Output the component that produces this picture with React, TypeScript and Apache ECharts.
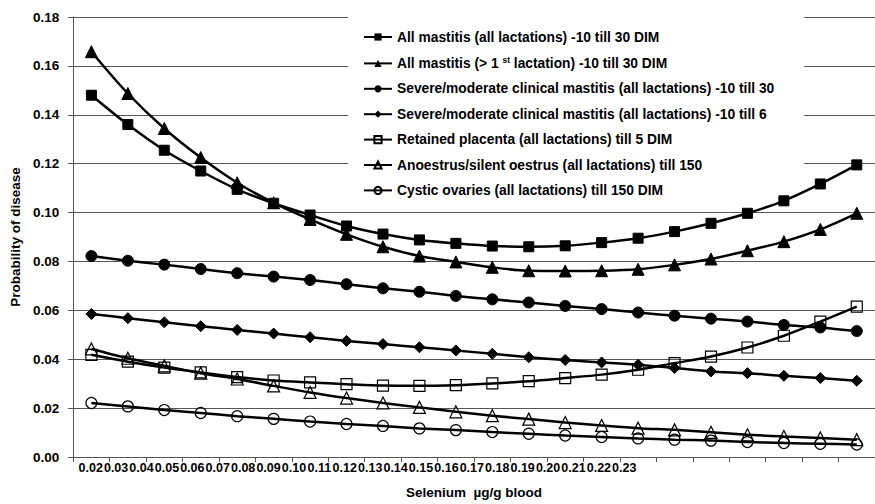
import React, { useEffect, useRef } from "react";
import * as echarts from "echarts";

const categories = ["0.02","0.03","0.04","0.05","0.06","0.07","0.08","0.09","0.10","0.11","0.12","0.13","0.14","0.15","0.16","0.17","0.18","0.19","0.20","0.21","0.22","0.23"];

const seriesNames = [
  "All mastitis (all lactations) -10 till 30 DIM",
  "All mastitis (> 1 st lactation) -10 till 30 DIM",
  "Severe/moderate clinical mastitis (all lactations) -10 till 30",
  "Severe/moderate clinical mastitis (all lactations) -10 till 6",
  "Retained placenta (all lactations) till 5 DIM",
  "Anoestrus/silent oestrus (all lactations) till 150",
  "Cystic ovaries (all lactations) till 150 DIM",
];

const allMastitis = [0.148, 0.136, 0.1255, 0.117, 0.1095, 0.1038, 0.099, 0.0945, 0.0912, 0.0888, 0.0874, 0.0863, 0.086, 0.0864, 0.0877, 0.0895, 0.0922, 0.0956, 0.0997, 0.1048, 0.1117, 0.1195];
const mastitisAfter1st = [0.1658, 0.1487, 0.1344, 0.1225, 0.1122, 0.104, 0.0972, 0.0911, 0.086, 0.0822, 0.0798, 0.0776, 0.0762, 0.0761, 0.0762, 0.0768, 0.0786, 0.081, 0.0844, 0.0881, 0.0931, 0.0997];
const severe30 = [0.0822, 0.0803, 0.0787, 0.0769, 0.0752, 0.0738, 0.0724, 0.0707, 0.069, 0.0676, 0.0659, 0.0645, 0.0632, 0.0618, 0.0605, 0.0591, 0.0578, 0.0566, 0.0554, 0.054, 0.053, 0.0515];
const severe6 = [0.0585, 0.0568, 0.0551, 0.0535, 0.052, 0.0505, 0.049, 0.0475, 0.0462, 0.0449, 0.0436, 0.0422, 0.0408, 0.0397, 0.0387, 0.0377, 0.0364, 0.035, 0.0343, 0.0332, 0.0323, 0.0312];
const retainedPlacenta = [0.0418, 0.039, 0.0366, 0.0346, 0.0327, 0.0313, 0.0305, 0.0298, 0.0292, 0.0291, 0.0294, 0.0301, 0.031, 0.0323, 0.0337, 0.0357, 0.0384, 0.0411, 0.0448, 0.0496, 0.0554, 0.0615];
const anoestrus = [0.0442, 0.0404, 0.0373, 0.0343, 0.0319, 0.0291, 0.0264, 0.0241, 0.0221, 0.0203, 0.0185, 0.0169, 0.0155, 0.0141, 0.0129, 0.0118, 0.0111, 0.0101, 0.0091, 0.0084, 0.0078, 0.0071];
const cysticOvaries = [0.0221, 0.0207, 0.0192, 0.018, 0.0167, 0.0156, 0.0145, 0.0135, 0.0127, 0.0117, 0.011, 0.0102, 0.0095, 0.0088, 0.0082, 0.0076, 0.0071, 0.0067, 0.0061, 0.0057, 0.0054, 0.0051];

const FONT = "'Liberation Sans', Arial, sans-serif";

export default function App() {
  const ref = useRef<HTMLDivElement>(null);
  useEffect(() => {
    document.body.style.margin = "0";
    if (!ref.current) return;
    const chart = echarts.init(ref.current, undefined, { renderer: "svg" });
    const open = { color: "rgba(255,255,255,0)", borderColor: "#000", borderWidth: 1.2 };
    const filled = { color: "#000", borderColor: "#000" };
    const defs = [
      { data: allMastitis, symbol: "rect", size: 10, item: filled },
      { data: mastitisAfter1st, symbol: "triangle", size: 12, item: filled },
      { data: severe30, symbol: "circle", size: 11, item: filled },
      { data: severe6, symbol: "diamond", size: 11, item: filled },
      { data: retainedPlacenta, symbol: "rect", size: 11, item: open },
      { data: anoestrus, symbol: "triangle", size: 12, item: open },
      { data: cysticOvaries, symbol: "circle", size: 11, item: open },
    ];
    const series = defs.map((d, i) => ({
      type: "line",
      name: seriesNames[i],
      xAxisIndex: 0,
      yAxisIndex: 0,
      data: d.data,
      symbol: d.symbol,
      symbolSize: d.size,
      showAllSymbol: true,
      smooth: 0.3,
      lineStyle: { color: "#000", width: 2.5 },
      itemStyle: d.item,
      z: 5,
    }));
    chart.setOption({
      animation: false,
      backgroundColor: "#fff",
      textStyle: { fontFamily: FONT },
      grid: [
        { left: 72, right: -4, top: 17, bottom: 47 },
        { left: 78, width: 559, top: 17, bottom: 47 },
      ],
      legend: {
        orient: "vertical",
        left: 348,
        top: 11,
        z: 4,
        padding: [19, 30, 6, 15],
        backgroundColor: "#fff",
        itemWidth: 28,
        itemHeight: 9,
        itemGap: 11.4,
        data: seriesNames,
        formatter: (name: string) => name.replace(" 1 st ", " 1 {sup|st} "),
        textStyle: {
          fontFamily: FONT,
          fontSize: 13.8,
          fontWeight: "bold",
          color: "#000",
          rich: {
            sup: { fontFamily: FONT, fontSize: 8.5, fontWeight: "bold", color: "#000", padding: [0, 0, 7, 0] },
          },
        },
      },
      xAxis: [
        {
          type: "category",
          gridIndex: 0,
          data: categories,
          boundaryGap: true,
          axisLine: { lineStyle: { color: "#555", width: 1 } },
          axisTick: { show: true, interval: 0, length: 5, lineStyle: { color: "#555" } },
          axisLabel: { show: false },
          name: "Selenium  µg/g blood",
          nameLocation: "middle",
          nameGap: 28,
          nameTextStyle: { fontFamily: FONT, fontSize: 13.5, fontWeight: "bold", color: "#000" },
        },
        {
          type: "category",
          gridIndex: 1,
          data: categories,
          boundaryGap: true,
          axisLine: { show: false },
          axisTick: { show: false },
          axisLabel: { interval: 0, margin: 4, fontFamily: FONT, fontSize: 12.5, fontWeight: "bold", color: "#000" },
        },
      ],
      yAxis: [
        {
          type: "value",
          gridIndex: 0,
          min: 0,
          max: 0.18,
          interval: 0.02,
          axisLine: { show: true, lineStyle: { color: "#555", width: 1 } },
          axisTick: { show: true, length: 5, lineStyle: { color: "#555" } },
          splitLine: { show: true, lineStyle: { color: "#555", width: 1 } },
          axisLabel: {
            margin: 14,
            fontFamily: FONT,
            fontSize: 13.5,
            fontWeight: "bold",
            color: "#000",
            formatter: (v: number) => v.toFixed(2),
          },
          name: "Probability of disease",
          nameLocation: "middle",
          nameGap: 50,
          nameRotate: 90,
          nameTextStyle: { fontFamily: FONT, fontSize: 13.5, fontWeight: "bold", color: "#000" },
        },
        {
          type: "value",
          gridIndex: 1,
          show: false,
          min: 0,
          max: 1,
        },
      ],
      series,
    });
    return () => chart.dispose();
  }, []);
  return <div ref={ref} style={{ width: 875, height: 504 }} />;
}
